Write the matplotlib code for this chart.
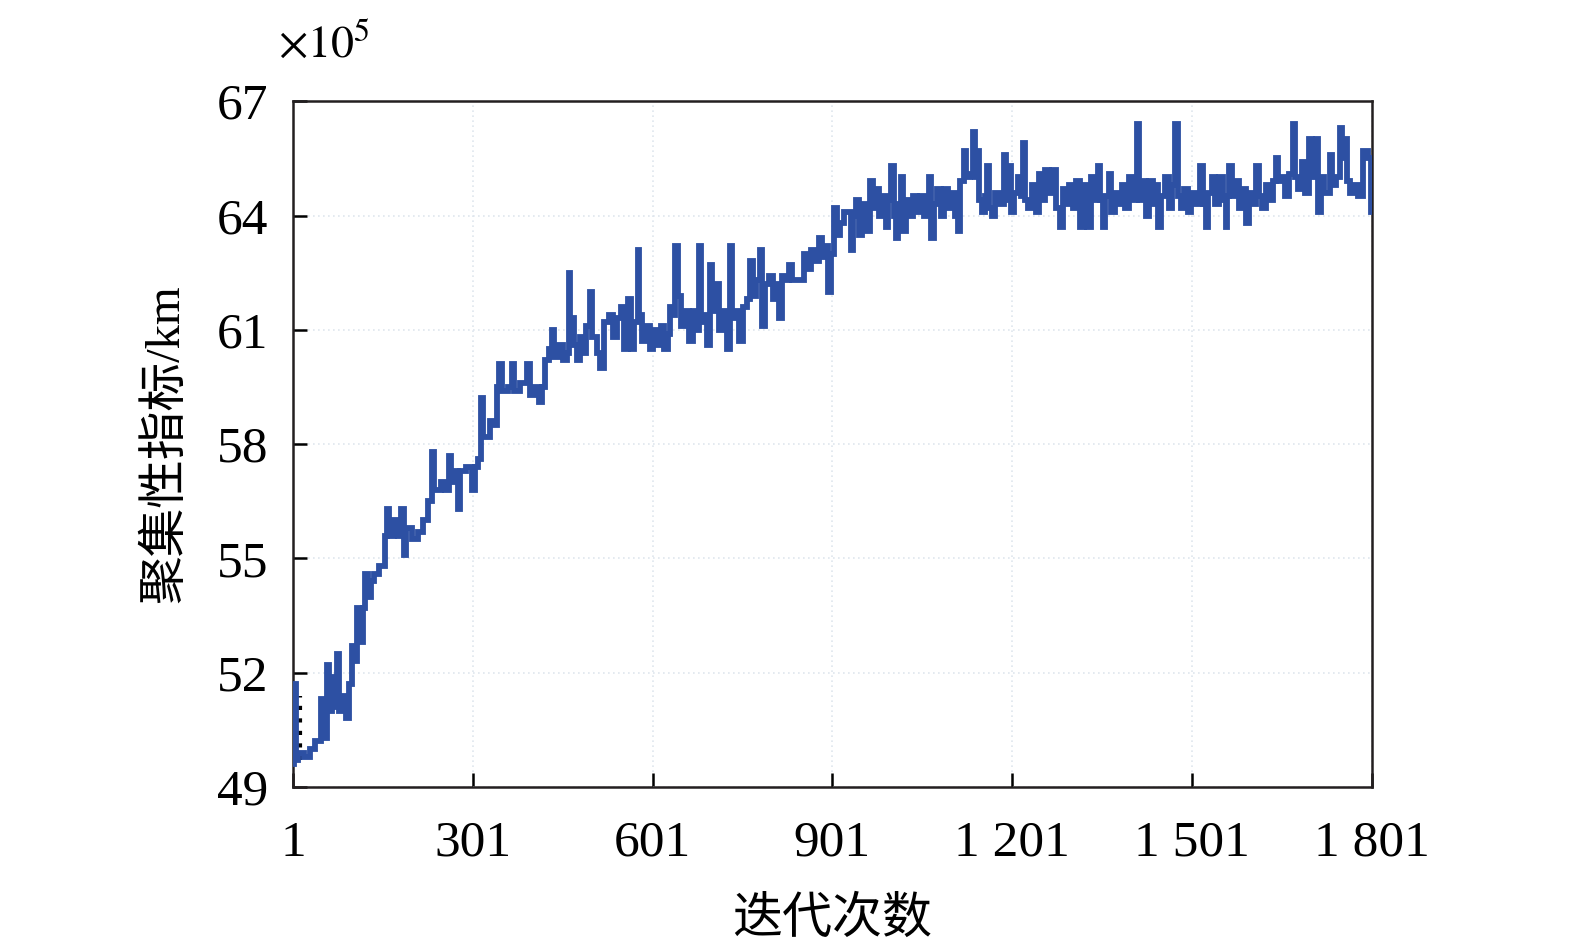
"""Convergence curve of the clustering index over iterations."""

import matplotlib

matplotlib.use("Agg")
import matplotlib.pyplot as plt

plt.rcParams["font.family"] = ["Liberation Serif", "Noto Sans CJK SC", "DejaVu Sans"]
plt.rcParams["mathtext.fontset"] = "stix"

# iteration number and clustering index (x 10^5 km)
iterations = [
    1, 3, 6, 9, 20, 30, 37, 47, 50, 58, 61, 66, 70, 75, 78, 85, 90, 94, 100, 105,
    108, 113, 118, 122, 126, 132, 137, 145, 154, 158, 162, 170, 176, 181, 186, 190,
    200, 210, 218, 226, 233, 237, 248, 255, 261, 265, 272, 276, 280, 290, 300, 304,
    310, 314, 318, 330, 338, 342, 345, 349, 360, 366, 370, 380, 392, 396, 405, 412,
    416, 422, 428, 434, 437, 445, 452, 458, 461, 464, 470, 475, 480, 486, 490, 496,
    500, 508, 514, 520, 528, 535, 542, 548, 553, 560, 565, 570, 576, 579, 584, 590,
    596, 602, 608, 615, 620, 626, 630, 636, 639, 643, 648, 655, 662, 668, 672, 678,
    681, 687, 692, 696, 700, 706, 712, 718, 725, 730, 733, 740, 745, 752, 758, 764,
    768, 774, 780, 783, 789, 795, 802, 808, 812, 817, 823, 828, 833, 840, 853, 858,
    866, 872, 879, 884, 890, 894, 899, 904, 909, 914, 920, 926, 932, 936, 940, 945,
    950, 958, 963, 968, 973, 978, 984, 990, 994, 999, 1003, 1007, 1011, 1016, 1019,
    1024, 1030, 1036, 1042, 1048, 1054, 1059, 1062, 1066, 1070, 1076, 1082, 1088,
    1094, 1100, 1106, 1110, 1114, 1120, 1124, 1130, 1136, 1139, 1142, 1145, 1150,
    1155, 1159, 1163, 1168, 1172, 1180, 1187, 1191, 1196, 1199, 1204, 1210, 1216,
    1219, 1223, 1228, 1234, 1240, 1246, 1250, 1256, 1262, 1268, 1274, 1280, 1285,
    1290, 1296, 1302, 1308, 1314, 1320, 1326, 1332, 1338, 1344, 1348, 1352, 1356,
    1362, 1366, 1372, 1378, 1384, 1390, 1396, 1402, 1409, 1413, 1418, 1424, 1430,
    1436, 1440, 1445, 1450, 1456, 1462, 1468, 1473, 1477, 1482, 1488, 1494, 1500,
    1506, 1515, 1520, 1524, 1528, 1534, 1540, 1546, 1552, 1557, 1560, 1563, 1567,
    1573, 1580, 1586, 1591, 1596, 1602, 1608, 1612, 1618, 1624, 1630, 1636, 1641,
    1645, 1650, 1656, 1662, 1669, 1673, 1678, 1684, 1690, 1697, 1701, 1708, 1712,
    1716, 1722, 1731, 1735, 1741, 1748, 1752, 1756, 1760, 1765, 1772, 1778, 1787,
    1795, 1799, 1801,
]
index_values = [
    49.6, 51.7, 49.7, 49.9, 49.8, 50.0, 50.2, 51.3, 50.3, 52.2, 51.0, 51.9, 51.1, 52.5, 51.0, 51.4, 50.8, 51.7, 52.7, 52.3,
    53.7, 52.8, 53.7, 54.6, 54.0, 54.4, 54.6, 54.8, 55.6, 56.3, 55.6, 56.0, 55.6, 56.3, 55.1, 55.8,
    55.5, 55.7, 56.0, 56.5, 57.8, 56.8, 57.0, 56.8, 57.7, 57.0, 57.3, 56.3, 57.3, 57.4, 56.8, 57.4,
    57.6, 59.2, 58.2, 58.6, 58.5, 59.5, 60.1, 59.4, 59.5, 60.1, 59.4, 59.6, 60.1, 59.3, 59.5, 59.1,
    59.5, 60.2, 60.5, 61.0, 60.3, 60.6, 60.2, 60.4, 62.5, 61.3, 60.6, 60.2, 60.8, 60.4, 61.1, 62.0,
    60.8, 60.4, 60.0, 61.2, 61.4, 60.8, 61.3, 61.6, 60.5, 61.8, 60.5, 61.2, 63.1, 61.4, 60.7, 61.1,
    60.5, 61.0, 60.6, 61.1, 60.5, 60.9, 61.6, 61.4, 63.2, 61.9, 61.1, 61.5, 60.7, 61.5, 61.0, 63.2,
    61.2, 61.4, 60.6, 62.7, 61.5, 62.2, 61.0, 61.5, 60.5, 63.2, 61.3, 61.5, 60.7, 61.6, 61.8, 62.8,
    61.9, 62.3, 63.1, 61.1, 62.2, 62.4, 61.8, 62.2, 61.3, 62.4, 62.3, 62.7, 62.3, 62.3, 63.0, 62.6,
    63.1, 62.8, 63.4, 62.9, 63.2, 62.0, 63.0, 64.2, 63.5, 63.8, 64.1, 64.1, 63.1, 64.0, 64.4, 63.5,
    64.3, 63.6, 64.9, 64.2, 64.7, 64.0, 64.5, 63.7, 64.4, 65.3, 64.0, 63.4, 64.3, 65.0, 63.6,
    64.4, 64.0, 64.5, 64.1, 64.5, 64.0, 64.4, 65.0, 63.4, 64.3, 64.7, 64.0, 64.7,
    64.2, 64.6, 64.0, 63.6, 64.9, 65.7, 65.0, 65.1, 66.2, 65.0, 65.7, 64.4, 64.1,
    64.5, 65.3, 64.2, 64.0, 64.6, 64.3, 65.6, 64.4, 65.3, 64.1, 64.6, 65.0, 64.5,
    65.9, 64.4, 64.2, 64.8, 64.1, 65.1, 64.4, 65.2, 64.6, 65.2, 64.2, 63.7, 64.7,
    64.3, 64.8, 64.2, 64.9, 63.7, 64.8, 63.7, 65.0, 64.4, 65.3, 64.4, 63.7, 64.5,
    65.1, 64.1, 64.6, 64.3, 64.8, 64.2, 65.0, 64.4, 66.4, 64.4, 64.9, 64.0, 64.9,
    64.3, 64.8, 63.7, 64.5, 65.0, 64.2, 64.8, 66.4, 64.5, 64.2, 64.7, 64.1, 64.6,
    64.3, 65.3, 64.3, 63.7, 64.6, 65.0, 64.3, 65.0, 64.4, 63.7, 64.5, 65.3, 64.5,
    64.9, 64.2, 64.7, 63.8, 64.6, 64.3, 65.3, 64.5, 64.2, 64.8, 64.4, 64.9, 65.5,
    64.9, 65.0, 64.5, 65.1, 66.4, 65.0, 64.7, 65.4, 64.6, 66.0, 65.0, 66.0, 64.1,
    65.0, 64.6, 65.6, 64.8, 65.0, 66.3, 65.5, 66.0, 64.9, 64.6, 64.8, 64.5, 65.7,
    65.5, 64.1, 64.1,
]

# short black dotted trace hidden behind the start of the curve
hidden_iters = [13, 13]
hidden_values = [49.7, 51.4]

x_ticks = [1, 301, 601, 901, 1201, 1501, 1801]
x_tick_labels = ["1", "301", "601", "901", "1 201", "1 501", "1 801"]
y_ticks = [49, 52, 55, 58, 61, 64, 67]

LINE_COLOR = "#2d50a3"
TICK_SIZE = 37

fig = plt.figure(figsize=(15.75, 9.46), dpi=100)
ax = fig.add_axes([0.186, 0.168, 0.685, 0.725])

ax.plot(hidden_iters, hidden_values, color="black", linestyle=(0, (1, 2)), linewidth=3, zorder=2)
ax.plot(
    iterations,
    index_values,
    color=LINE_COLOR,
    linewidth=4.2,
    drawstyle="steps-post",
    solid_joinstyle="miter",
    zorder=3,
)

ax.set_xlim(1, 1801)
ax.set_ylim(49, 67)
ax.set_xticks(x_ticks)
ax.set_xticklabels(x_tick_labels)
ax.set_yticks(y_ticks)

ax.grid(True, color="#dfe6ee", linestyle=(0, (1, 2)), linewidth=1.2, zorder=0)
ax.tick_params(
    which="major", direction="in", length=10, width=1.8,
    labelsize=TICK_SIZE, top=False, right=False,
)
ax.tick_params(axis="x", pad=24)
ax.tick_params(axis="y", pad=18)
for spine in ax.spines.values():
    spine.set_linewidth(1.8)
    spine.set_color("#231f20")

ax.set_xlabel("迭代次数", fontsize=36, labelpad=22)
ax.set_ylabel("聚集性指标/km", fontsize=35, labelpad=20)

fig.text(0.206, 0.952, r"$\times10^{5}$", fontsize=33, ha="center", va="center")

fig.savefig("out.png", dpi=100)
